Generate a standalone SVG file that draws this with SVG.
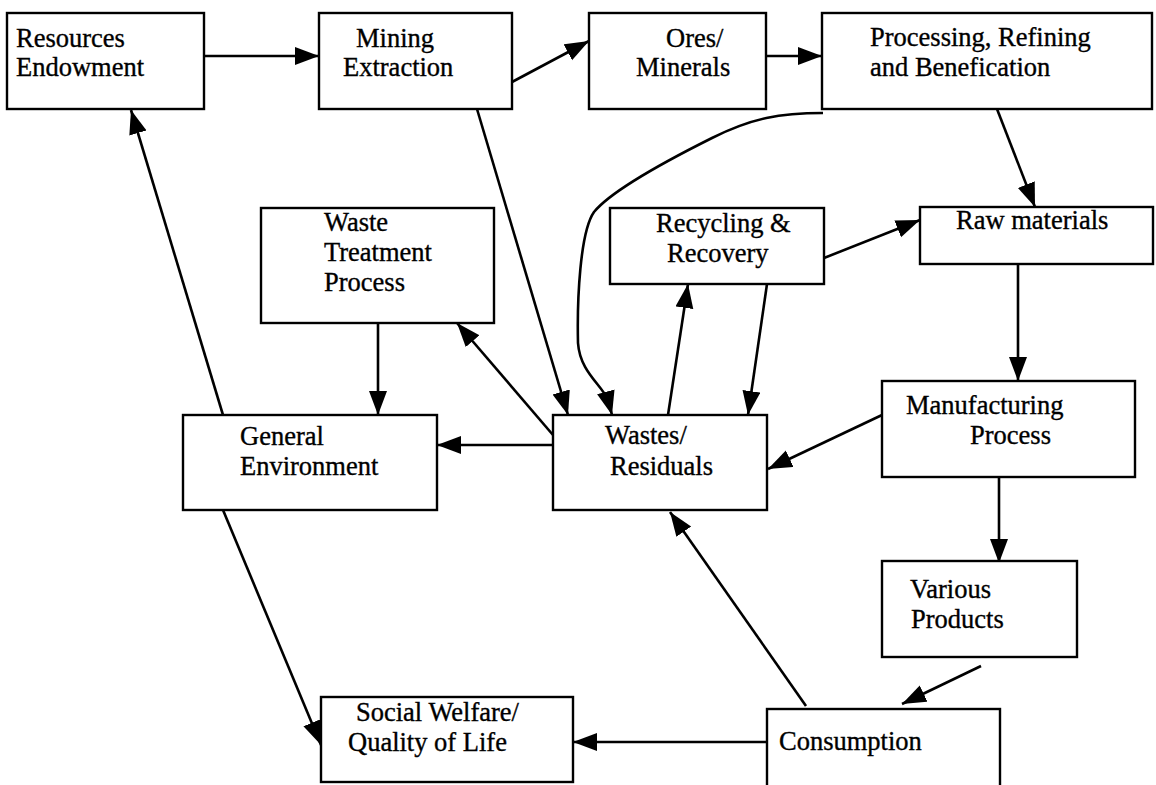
<svg xmlns="http://www.w3.org/2000/svg" width="1156" height="785" viewBox="0 0 1156 785">
<defs>
<style>
.box{fill:#fff;stroke:#000;stroke-width:2.4}
.t{font-family:"Liberation Serif","Times New Roman",serif;font-size:26.5px;fill:#000;stroke:#000;stroke-width:0.35}
.c{fill:none;stroke:#000;stroke-width:2.6;marker-end:url(#ah)}
</style>
<marker id="ah" markerUnits="userSpaceOnUse" markerWidth="26" markerHeight="20" refX="24" refY="9" orient="auto">
<path d="M0,0 L24,9 L0,18 z" fill="#000"/>
</marker>
</defs>
<rect width="1156" height="785" fill="#fff"/>
<g id="connectors">
<path class="c" d="M204,56 L319,56"/>
<path class="c" d="M512,82 L589,41"/>
<path class="c" d="M766,56 L822,56"/>
<path class="c" d="M997,109 L1035,207"/>
<path class="c" d="M824,258 L920,220"/>
<path class="c" d="M1018,264 L1018,381"/>
<path class="c" d="M882,415 L768,469"/>
<path class="c" d="M999,459 L999,563"/>
<path class="c" d="M981,666 L902,704"/>
<path class="c" d="M806,706 L670,512"/>
<path class="c" d="M767,742 L573,742"/>
<path class="c" d="M223,510 L321,745"/>
<path class="c" d="M223,415 L131,110"/>
<path class="c" d="M477,109 L568,415"/>
<path class="c" d="M823,113 C780,113 752,118 712,138 C672,158 612,190 594,212 C580,232 577,300 578,343 C580,372 602,385 608,400 L612,415"/>
<path class="c" d="M668,415 L688,284"/>
<path class="c" d="M767,284 L748,415"/>
<path class="c" d="M553,435 L457,323"/>
<path class="c" d="M378,323 L378,415"/>
<path class="c" d="M553,445 L437,445"/>
</g>
<g id="resources"><rect class="box" x="7" y="13" width="197" height="96"/><text class="t" x="16" y="47">Resources</text><text class="t" x="16" y="76">Endowment</text></g>
<g id="mining"><rect class="box" x="319" y="13" width="193" height="96"/><text class="t" x="356" y="47">Mining</text><text class="t" x="343" y="76">Extraction</text></g>
<g id="ores"><rect class="box" x="589" y="13" width="177" height="96"/><text class="t" x="666" y="47">Ores/</text><text class="t" x="636" y="76">Minerals</text></g>
<g id="processing"><rect class="box" x="822" y="13" width="330" height="96"/><text class="t" x="870" y="46">Processing, Refining</text><text class="t" x="870" y="76">and Benefication</text></g>
<g id="raw"><rect class="box" x="920" y="207" width="233" height="57"/><text class="t" x="956" y="229">Raw materials</text></g>
<g id="recycling"><rect class="box" x="610" y="208" width="214" height="76"/><text class="t" x="656" y="232">Recycling &amp;</text><text class="t" x="667" y="262">Recovery</text></g>
<g id="treatment"><rect class="box" x="261" y="208" width="233" height="115"/><text class="t" x="324" y="231">Waste</text><text class="t" x="324" y="261">Treatment</text><text class="t" x="324" y="291">Process</text></g>
<g id="general"><rect class="box" x="183" y="415" width="254" height="95"/><text class="t" x="240" y="445">General</text><text class="t" x="240" y="475">Environment</text></g>
<g id="wastes"><rect class="box" x="553" y="415" width="214" height="95"/><text class="t" x="605" y="444">Wastes/</text><text class="t" x="610" y="475">Residuals</text></g>
<g id="manufacturing"><rect class="box" x="882" y="381" width="253" height="96"/><text class="t" x="906" y="414">Manufacturing</text><text class="t" x="970" y="444">Process</text></g>
<g id="products"><rect class="box" x="882" y="561" width="195" height="96"/><text class="t" x="910" y="598">Various</text><text class="t" x="911" y="628">Products</text></g>
<g id="consumption"><rect class="box" x="767" y="709" width="233" height="100"/><text class="t" x="779" y="750">Consumption</text></g>
<g id="welfare"><rect class="box" x="321" y="697" width="252" height="85"/><text class="t" x="356" y="721">Social Welfare/</text><text class="t" x="348" y="751">Quality of Life</text></g>
</svg>
